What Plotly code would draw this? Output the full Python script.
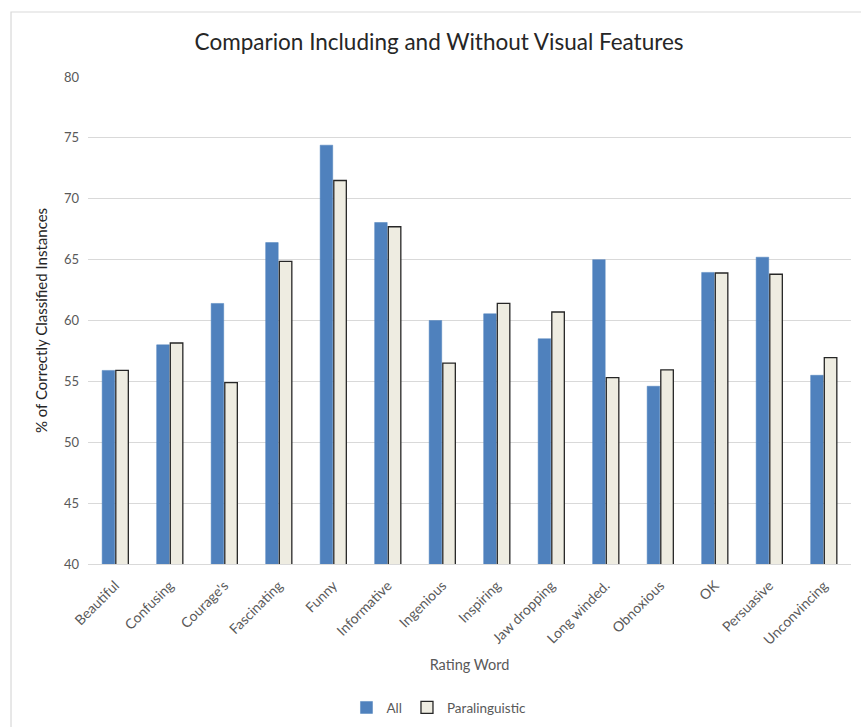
import plotly.graph_objects as go

categories = ["Beautiful", "Confusing", "Courage's", "Fascinating", "Funny", "Informative",
              "Ingenious", "Inspiring", "Jaw dropping", "Long winded.", "Obnoxious", "OK",
              "Persuasive", "Unconvincing"]
all_features = [55.9, 58.0, 61.4, 66.4, 74.4, 68.05, 60.0, 60.55, 58.5, 65.0, 54.6, 63.95, 65.2, 55.5]
paralinguistic = [55.9, 58.15, 54.9, 64.85, 71.5, 67.7, 56.5, 61.4, 60.7, 55.3, 55.95, 63.9, 63.8, 56.95]
y_ticks = [40, 45, 50, 55, 60, 65, 70, 75, 80]

font_family = "Lato, 'Open Sans', sans-serif"
text_color = "#595959"

fig = go.Figure()
fig.add_trace(go.Bar(
    x=categories, y=all_features, name="All",
    marker=dict(color="#4f81bd", line=dict(color="#4f81bd", width=0.5)),
))
fig.add_trace(go.Bar(
    x=categories, y=paralinguistic, name="Paralinguistic",
    marker=dict(color="#eeece1", line=dict(color="#262626", width=1.3)),
))

fig.update_layout(
    width=861, height=727,
    paper_bgcolor="white", plot_bgcolor="white",
    margin=dict(l=88, r=10, t=77, b=163, autoexpand=False),
    barmode="group", bargap=0.5, bargroupgap=0.08,
    font=dict(family=font_family, color=text_color, size=12),
    title=dict(text="Comparion Including and Without Visual Features",
               x=0.51, xanchor="center", y=0.942, yanchor="middle",
               font=dict(size=22.5, color="#262626", family=font_family)),
    xaxis=dict(
        automargin=False,
        tickangle=-45, tickfont=dict(size=14, color=text_color),
        ticklabelstandoff=7,
        showgrid=False, showline=True, linecolor="#d9d9d9", linewidth=1,
        ticks="",
        title=dict(text="Rating Word", font=dict(size=14.5, color=text_color), standoff=12),
    ),
    yaxis=dict(
        automargin=False,
        range=[40, 80], tickvals=y_ticks, tickfont=dict(size=13, color=text_color),
        ticklabelstandoff=8,
        showgrid=True, gridcolor="#d9d9d9", gridwidth=1, zeroline=False,
        ticks="", ticklen=0,
        title=dict(text="% of Correctly Classified Instances",
                   font=dict(size=15, color="#262626"), standoff=12),
    ),
    legend=dict(orientation="h", x=0.46, xanchor="center", y=-0.295, yanchor="middle",
                font=dict(size=13.5, color=text_color), itemwidth=30),
    # chart-area frame (right and bottom edges run past the page)
    shapes=[dict(type="rect", xref="paper", yref="paper",
                 x0=-0.1009, x1=1.03, y0=-0.36, y1=1.1335,
                 line=dict(color="#d9d9d9", width=1.2), fillcolor="rgba(0,0,0,0)",
                 layer="below")],
)

fig.write_html("out.html")
